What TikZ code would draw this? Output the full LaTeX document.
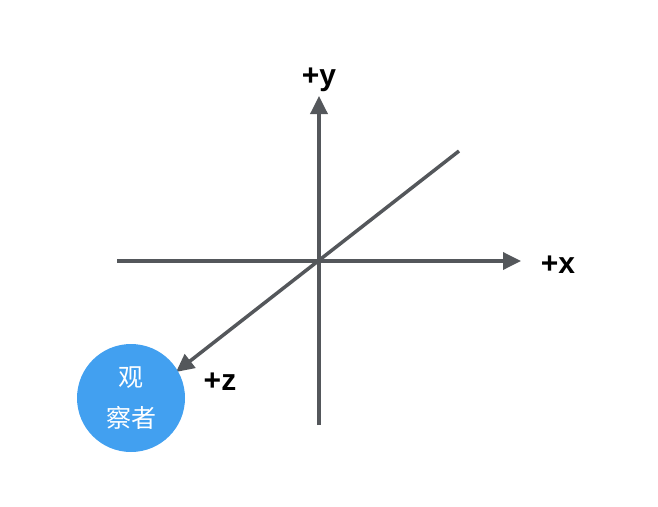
\documentclass[tikz,border=0pt]{standalone}
\usepackage{fontspec}
\setmainfont{Liberation Sans}
\newfontfamily\cjk{Noto Sans CJK SC}
\usetikzlibrary{arrows.meta}
\definecolor{axisgray}{HTML}{54575B}
\definecolor{obsblue}{HTML}{42A0F0}
\tikzset{
  axis/.style={draw=axisgray, line width=3.5pt, -{Triangle[length=18pt,width=17pt]}},
  axlabel/.style={font=\bfseries\fontsize{30}{34}\selectfont, text=black, inner sep=0pt},
  observer/.style={circle, fill=obsblue, minimum size=108pt, inner sep=0pt, text=white, align=center, font=\cjk\fontsize{25}{41}\selectfont}
}
\begin{document}
\begin{tikzpicture}[x=1pt,y=-1pt]
\useasboundingbox (0,0) rectangle (658,506);
\coordinate (xs) at (117,261);
\coordinate (xe) at (521,261);
\coordinate (ys) at (319,425);
\coordinate (ye) at (319,96);
\coordinate (zs) at (459,151);
\coordinate (ze) at (176,372);
\draw[axis] (xs) -- (xe);
\draw[axis] (ys) -- (ye);
\draw[axis] (zs) -- (ze);
\node[observer] (obs) at (131,398) {观\\察者};
\node[axlabel] (ly) at (319,80) {+y};
\node[axlabel] (lx) at (558,265) {+x};
\node[axlabel] (lz) at (220,382) {+z};
\end{tikzpicture}
\end{document}
